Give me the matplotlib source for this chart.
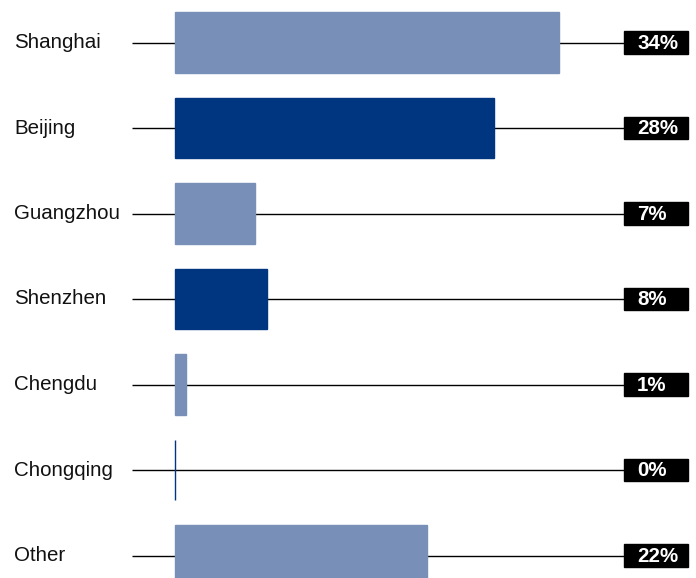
import matplotlib.pyplot as plt
from matplotlib.patches import Rectangle

plt.rcParams['font.family'] = ['Liberation Sans', 'DejaVu Sans']

cities = ['Shanghai', 'Beijing', 'Guangzhou', 'Shenzhen', 'Chengdu', 'Chongqing', 'Other']
shares = [33.5, 27.9, 7.0, 8.0, 1.0, 0.0, 22.0]
labels = ['34%', '28%', '7%', '8%', '1%', '0%', '22%']

light = '#7890b8'
dark = '#003680'
colors = [light if i % 2 == 0 else dark for i in range(len(cities))]

fig = plt.figure(figsize=(6.96, 5.78), dpi=100)
ax = fig.add_axes([0, 0, 1, 1])

px = 11.45  # pixels per percent
step = 85.5  # pixels per row
ax.set_xlim(-175 / px, 521 / px)
ax.set_ylim((578 - 42.5) / step, -42.5 / step)
ax.axis('off')

y = list(range(len(cities)))
ax.hlines(y, -43 / px, 449 / px, color='black', lw=1, zorder=1)
ax.barh(y, shares, height=0.713, color=colors, edgecolor=colors, lw=1, zorder=2)

for i, name in enumerate(cities):
    ax.text(-161 / px, i, name, ha='left', va='center', fontsize=14.8, color='#111111')
    ax.add_patch(Rectangle((449 / px, i - 0.129), 64 / px, 0.258, color='black', zorder=3))
    ax.text(462 / px, i + 0.01, labels[i], ha='left', va='center', fontsize=14.8,
            fontweight='bold', color='white', zorder=4)

fig.savefig('out.png', dpi=100)
